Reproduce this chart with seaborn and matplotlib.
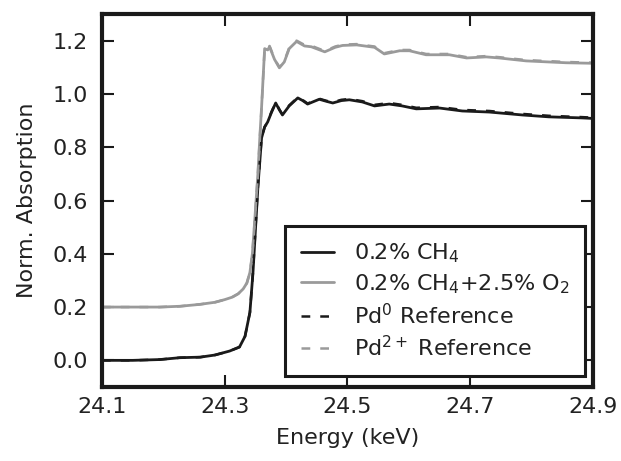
import matplotlib
matplotlib.use("Agg")
import matplotlib.pyplot as plt
import seaborn as sns

# energies (keV) where the curves were read
energy_ch4 = [24.100, 24.150, 24.194, 24.227, 24.260, 24.284, 24.308, 24.324, 24.333,
              24.341, 24.346, 24.349, 24.354, 24.360, 24.365, 24.370, 24.376, 24.383,
              24.389, 24.394, 24.405, 24.419, 24.427, 24.435, 24.454, 24.466, 24.476,
              24.490, 24.503, 24.524, 24.544, 24.568, 24.589, 24.612, 24.650, 24.687,
              24.731, 24.785, 24.828, 24.882, 24.900]
absorb_ch4 = [0.000, 0.000, 0.003, 0.010, 0.012, 0.020, 0.035, 0.050, 0.090,
              0.180, 0.330, 0.450, 0.650, 0.835, 0.876, 0.895, 0.930, 0.966,
              0.940, 0.921, 0.955, 0.985, 0.975, 0.962, 0.980, 0.972, 0.966,
              0.975, 0.978, 0.970, 0.955, 0.962, 0.955, 0.944, 0.947, 0.936,
              0.932, 0.921, 0.914, 0.910, 0.908]
absorb_pd0 = [0.000, 0.000, 0.003, 0.010, 0.012, 0.020, 0.035, 0.050, 0.090,
              0.180, 0.330, 0.450, 0.650, 0.835, 0.876, 0.895, 0.932, 0.968,
              0.942, 0.923, 0.957, 0.987, 0.977, 0.964, 0.982, 0.974, 0.969,
              0.978, 0.981, 0.973, 0.959, 0.966, 0.959, 0.948, 0.951, 0.940,
              0.936, 0.925, 0.918, 0.913, 0.911]

energy_o2 = [24.100, 24.194, 24.227, 24.259, 24.284, 24.300, 24.312, 24.322, 24.330,
             24.336, 24.341, 24.345, 24.349, 24.354, 24.357, 24.360, 24.365, 24.370,
             24.373, 24.381, 24.389, 24.397, 24.405, 24.417, 24.430, 24.441, 24.463,
             24.480, 24.492, 24.515, 24.544, 24.560, 24.585, 24.601, 24.628, 24.666,
             24.694, 24.726, 24.747, 24.791, 24.828, 24.856, 24.900]
absorb_o2 = [0.200, 0.200, 0.203, 0.210, 0.218, 0.228, 0.237, 0.250, 0.268,
             0.290, 0.330, 0.400, 0.530, 0.700, 0.830, 0.950, 1.170, 1.165,
             1.177, 1.130, 1.098, 1.120, 1.170, 1.197, 1.180, 1.177, 1.158,
             1.175, 1.182, 1.184, 1.175, 1.150, 1.162, 1.162, 1.147, 1.147,
             1.135, 1.139, 1.135, 1.124, 1.120, 1.117, 1.115]
absorb_pd2 = [0.200, 0.200, 0.203, 0.210, 0.218, 0.228, 0.237, 0.250, 0.268,
              0.290, 0.330, 0.400, 0.530, 0.700, 0.830, 0.950, 1.172, 1.168,
              1.180, 1.133, 1.100, 1.123, 1.173, 1.200, 1.184, 1.181, 1.161,
              1.178, 1.185, 1.187, 1.178, 1.153, 1.165, 1.165, 1.150, 1.150,
              1.138, 1.142, 1.138, 1.127, 1.123, 1.120, 1.117]

sns.set_style("ticks")
plt.rcParams["font.family"] = ["DejaVu Sans"]
plt.rcParams["mathtext.fontset"] = "cm"
plt.rcParams["mathtext.default"] = "regular"
plt.rcParams["xtick.direction"] = "in"
plt.rcParams["ytick.direction"] = "in"
plt.rcParams["xtick.top"] = True
plt.rcParams["ytick.right"] = True

dark = "#1a1a1a"
grey = "#9a9a9a"
txt = "#222222"
dash = (0, (3.5, 4))
fs = 16

fig, ax = plt.subplots(figsize=(6.21, 4.61), dpi=100)
fig.subplots_adjust(left=102/621, right=593/621, top=1-14/461, bottom=1-387/461)

sns.lineplot(x=energy_ch4, y=absorb_ch4, ax=ax, color=dark, lw=2.0, label="0.2% CH$_4$")
sns.lineplot(x=energy_o2, y=absorb_o2, ax=ax, color=grey, lw=2.0, label="0.2% CH$_4$+2.5% O$_2$")
sns.lineplot(x=energy_ch4, y=absorb_pd0, ax=ax, color=dark, lw=1.8, linestyle=dash,
             label="Pd$^0$ Reference")
sns.lineplot(x=energy_o2, y=absorb_pd2, ax=ax, color=grey, lw=1.8, linestyle=dash,
             label="Pd$^{2+}$ Reference")

ax.set_xlim(24.1, 24.9)
ax.set_ylim(-0.1, 1.3)
ax.set_xticks([24.1, 24.3, 24.5, 24.7, 24.9])
ax.set_yticks([0.0, 0.2, 0.4, 0.6, 0.8, 1.0, 1.2])
ax.set_xlabel("Energy (keV)", fontsize=fs, color=txt, labelpad=8)
ax.set_ylabel("Norm. Absorption", fontsize=fs, color=txt, labelpad=11)
ax.tick_params(labelsize=fs, labelcolor=txt, length=8.5, width=1.5, color=dark)
ax.tick_params(axis="x", pad=7)
ax.tick_params(axis="y", pad=10)
for s in ax.spines.values():
    s.set_linewidth(3)
    s.set_color(dark)

leg = ax.legend(loc="lower right", fontsize=fs, frameon=True, fancybox=False,
                handlelength=1.5, handletextpad=0.9, labelspacing=0.32,
                borderpad=0.7, borderaxespad=0, bbox_to_anchor=(0.984, 0.03))
leg.get_frame().set_edgecolor(dark)
leg.get_frame().set_linewidth(2.2)
leg.get_frame().set_alpha(1)
for t in leg.get_texts():
    t.set_color(txt)

fig.savefig("out.png", dpi=100)
